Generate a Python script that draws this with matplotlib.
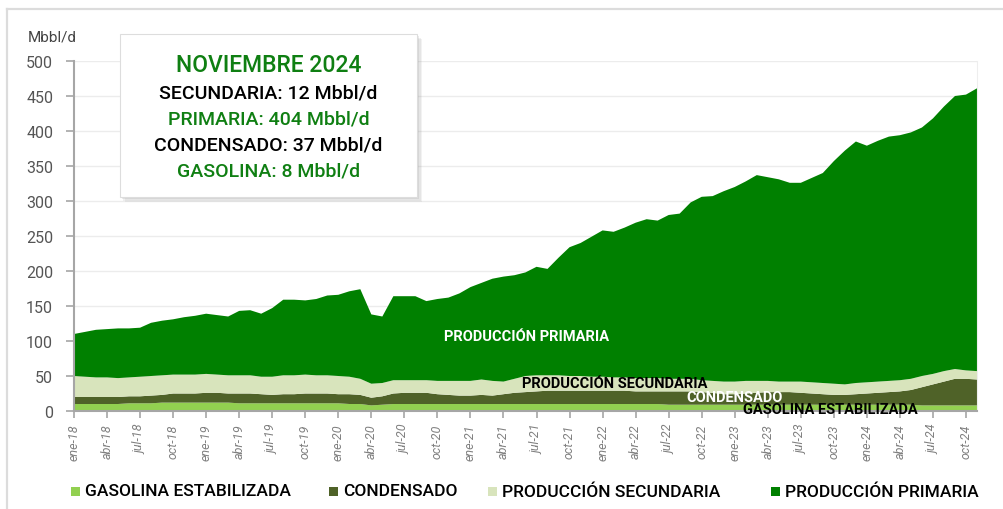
import matplotlib
matplotlib.use("Agg")
import matplotlib.pyplot as plt
from matplotlib.patches import Rectangle
from matplotlib.lines import Line2D

plt.rcParams['font.family'] = ['Roboto', 'DejaVu Sans']

# ---------------- data (Mbbl/d), monthly ene-18 .. nov-24 ----------------
months_es = ['ene', 'feb', 'mar', 'abr', 'may', 'jun', 'jul', 'ago', 'sep', 'oct', 'nov', 'dic']
years = ['18', '19', '20', '21', '22', '23', '24']
periods = [f"{m}-{y}" for y in years for m in months_es][:83]

gasolina = [10, 10, 10, 10, 10, 11, 11, 11, 12, 12,
            12, 12, 12, 12, 12, 11, 11, 11, 11, 11,
            11, 11, 11, 11, 11, 10, 10, 8, 9, 10,
            10, 10, 10, 10, 10, 10, 10, 10, 10, 10,
            10, 10, 10, 10, 10, 10, 10, 10, 10, 10,
            10, 10, 10, 10, 9, 9, 9, 9, 9, 9,
            9, 9, 9, 9, 9, 9, 9, 9, 9, 9,
            9, 9, 9, 9, 9, 9, 9, 8, 8, 8,
            8, 8, 8]
condensado = [10, 10, 10, 10, 10, 10, 10, 11, 11, 13,
              13, 13, 14, 14, 13, 14, 14, 13, 12, 13,
              13, 14, 14, 14, 13, 14, 13, 11, 12, 15,
              16, 16, 16, 14, 13, 12, 12, 13, 12, 14,
              16, 17, 18, 19, 19, 19, 19, 19, 19, 19,
              19, 18, 18, 18, 19, 19, 19, 18, 17, 15,
              15, 16, 17, 18, 18, 18, 17, 16, 15, 14,
              14, 15, 16, 17, 18, 19, 21, 26, 30, 34,
              38, 38, 37]
secundaria = [30, 29, 28, 28, 27, 27, 28, 28, 28, 27,
              27, 27, 27, 26, 26, 26, 26, 25, 26, 27,
              27, 27, 26, 26, 26, 25, 23, 20, 19, 19,
              18, 18, 18, 19, 20, 21, 21, 22, 21, 18,
              20, 23, 23, 22, 22, 21, 21, 20, 20, 19,
              19, 19, 19, 19, 18, 18, 18, 17, 17, 18,
              18, 18, 17, 16, 15, 15, 16, 16, 16, 16,
              15, 16, 16, 16, 16, 16, 16, 16, 15, 15,
              14, 12, 12]
primaria = [60, 64, 68, 69, 71, 70, 70, 76, 78, 79,
            82, 84, 86, 85, 84, 92, 93, 90, 98, 108,
            108, 106, 109, 114, 116, 122, 128, 99, 95, 120,
            120, 120, 113, 117, 119, 125, 134, 138, 146, 150,
            148, 148, 155, 152, 168, 184, 190, 200, 209, 208,
            214, 222, 227, 225, 234, 236, 252, 262, 264, 272,
            278, 285, 294, 291, 289, 284, 284, 292, 300, 318,
            334, 345, 338, 344, 349, 350, 352, 355, 365, 378,
            390, 394, 404]

series_names = ['GASOLINA ESTABILIZADA', 'CONDENSADO', 'PRODUCCIÓN SECUNDARIA', 'PRODUCCIÓN PRIMARIA']
series_colors = ['#92D050', '#4F6228', '#D8E4BC', '#008000']

tooltip_title = 'NOVIEMBRE 2024'
tooltip_lines = ['SECUNDARIA: 12 Mbbl/d', 'PRIMARIA: 404 Mbbl/d',
                 'CONDENSADO: 37 Mbbl/d', 'GASOLINA: 8 Mbbl/d']

# ---------------- figure ----------------
W, H = 1004, 510
fig = plt.figure(figsize=(W / 100, H / 100), dpi=100)
fig.patch.set_facecolor('white')

def fx(px):
    return px / W

def fy(py):
    return 1 - py / H

# outer frame lines
fig.add_artist(Line2D([fx(7), 1.0], [fy(10), fy(10)], color='#dcdcdc', lw=1.6))
fig.add_artist(Line2D([fx(7), fx(7)], [fy(10), 0.0], color='#dcdcdc', lw=1.6))

ax = fig.add_axes([fx(74), fy(412), fx(977) - fx(74), (412 - 62) / H])
x = list(range(len(primaria)))
ax.stackplot(x, gasolina, condensado, secundaria, primaria,
             colors=series_colors, linewidth=0, zorder=2)

ax.set_xlim(0, len(primaria) - 1)
ax.set_ylim(0, 500)
ax.set_yticks(range(0, 501, 50))
ax.grid(axis='y', color='#ececec', lw=1.0, zorder=0)
ax.set_axisbelow(True)

ax.set_xticks(x[::3])
ax.set_xticklabels(periods[::3], rotation=90, fontstyle='italic', color='#808080', fontsize=9)
ax.tick_params(axis='x', length=5, color='#a6a6a6', width=1.2, pad=4)
ax.tick_params(axis='y', length=6, color='#a6a6a6', width=1.2, pad=9, labelsize=11.5, labelcolor='#555555')

ax.spines['top'].set_visible(False)
ax.spines['right'].set_color('#eeeeee')
ax.spines['left'].set_color('#a6a6a6')
ax.spines['left'].set_linewidth(1.5)
ax.spines['bottom'].set_color('#a6a6a6')
ax.spines['bottom'].set_linewidth(1.5)
ax.spines['bottom'].set_zorder(3)

fig.text(fx(28), fy(37), 'Mbbl/d', fontsize=11, color='#444444', va='center', ha='left')

# in-chart series labels
lab_kw = dict(fontsize=10.5, fontweight='bold', ha='center', va='center', zorder=5)
ax.text(41.1, 107, 'PRODUCCIÓN PRIMARIA', color='white', **lab_kw)
ax.text(49.1, 40, 'PRODUCCIÓN SECUNDARIA', color='black', **lab_kw)
ax.text(60.0, 20, 'CONDENSADO', color='white', **lab_kw)
ax.text(68.7, 3, 'GASOLINA ESTABILIZADA', color='black', clip_on=False, **lab_kw)

# tooltip box with soft shadow
bx0, by0, bx1, by1 = 120, 35, 417, 198
for i, a in enumerate([0.10, 0.12, 0.16]):
    off = 5 - i * 1.5
    fig.add_artist(Rectangle((fx(bx0 + off), fy(by1 + off)), fx(bx1 - bx0), (by1 - by0) / H,
                             facecolor='#888888', edgecolor='none', alpha=a, zorder=8))
fig.add_artist(Rectangle((fx(bx0), fy(by1)), fx(bx1 - bx0), (by1 - by0) / H,
                         facecolor='white', edgecolor='#dddddd', lw=0.8, zorder=9))
cx = fx((bx0 + bx1) / 2)
fig.text(cx, fy(65), tooltip_title, color='#0f7f12', fontsize=16.5, ha='center', va='center',
         fontweight='medium', zorder=10)
line_colors = ['black', '#0f7f12', 'black', '#0f7f12']
line_y = [93, 119, 145, 172]
for t, c, yy in zip(tooltip_lines, line_colors, line_y):
    fig.text(cx, fy(yy), t, color=c, fontsize=14, fontweight='medium', ha='center', va='center', zorder=10)

# legend (manual)
leg_marker_x = [71, 329, 488, 771]
leg_y = 492
for name, col, mx in zip(series_names, series_colors, leg_marker_x):
    fig.add_artist(Rectangle((fx(mx), fy(leg_y + 5)), fx(9), 9 / H, facecolor=col, edgecolor='none'))
    fig.text(fx(mx + 14), fy(leg_y), name, fontsize=12.5, fontweight='medium', color='black',
             ha='left', va='center')

fig.savefig('out.png', dpi=100, facecolor='white')
